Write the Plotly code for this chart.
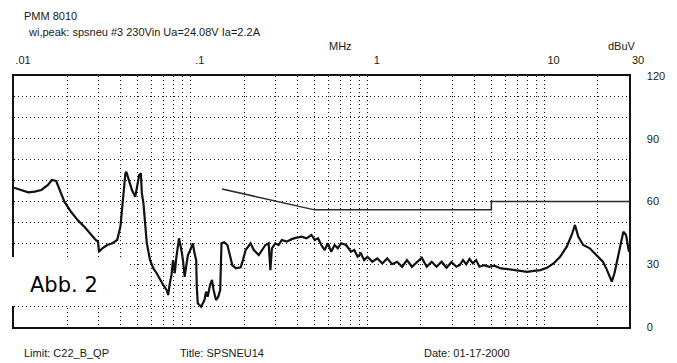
import math
import plotly.graph_objects as go

# ---------------- data ----------------
meas_freq_mhz = [
    0.0100, 0.01104, 0.01203, 0.0131, 0.01428, 0.01556, 0.01638, 0.01732, 0.01807, 0.01927,
    0.0210, 0.0229, 0.02493, 0.02718, 0.02897, 0.02985, 0.03023, 0.03158, 0.03368, 0.03592,
    0.03831, 0.03998, 0.04171, 0.04264, 0.04317, 0.04446, 0.04645, 0.04847, 0.04955, 0.05104,
    0.05217, 0.05284, 0.05394, 0.05513, 0.05635, 0.0588, 0.06135, 0.06408, 0.06686, 0.06977,
    0.07289, 0.0744, 0.07603, 0.07771, 0.07932, 0.08107, 0.08286, 0.0857, 0.08839, 0.09023,
    0.09222, 0.09426, 0.09621, 0.09922, 0.1026, 0.1049, 0.1072, 0.1080, 0.1094, 0.1143,
    0.1193, 0.1219, 0.1245, 0.1284, 0.1317, 0.1344, 0.1387, 0.1428, 0.1465, 0.1490,
    0.1543, 0.1609, 0.1666, 0.1716, 0.1800, 0.1912, 0.1970, 0.2040, 0.2175, 0.2269,
    0.2420, 0.2638, 0.2753, 0.2814, 0.2872, 0.3000, 0.3130, 0.3266, 0.3484, 0.3714,
    0.3962, 0.4224, 0.4504, 0.4804, 0.5019, 0.5236, 0.5464, 0.5707, 0.5955, 0.6214,
    0.6492, 0.6773, 0.7068, 0.7538, 0.8035, 0.8395, 0.8761, 0.9141, 0.9548, 0.9961,
    1.062, 1.133, 1.209, 1.288, 1.374, 1.466, 1.563, 1.667, 1.777, 1.895,
    2.021, 2.155, 2.299, 2.451, 2.615, 2.788, 2.974, 3.171, 3.308, 3.456,
    3.606, 3.762, 3.931, 4.101, 4.280, 4.563, 4.867, 5.190, 5.656, 6.166,
    6.711, 7.315, 7.975, 8.680, 9.463, 10.31, 11.23, 12.24, 13.34, 14.23,
    14.85, 15.49, 16.52, 18.00, 19.62, 21.36, 22.32, 23.28, 23.98, 24.83,
    25.92, 27.07, 27.88, 28.86, 30.0,
]
meas_level_dbuv = [
    66.6, 65.5, 64.4, 64.7, 65.5, 67.9, 70.3, 69.8, 65.5, 59.9,
    55.1, 51.1, 48.0, 44.0, 41.6, 40.8, 36.0, 37.6, 39.2, 40.0,
    41.6, 48.0, 63.9, 73.5, 74.2, 70.3, 65.5, 62.3, 67.1, 72.7,
    73.5, 63.9, 59.1, 48.0, 40.0, 32.0, 28.0, 25.7, 22.5, 20.1,
    17.7, 15.3, 20.9, 24.9, 32.0, 25.7, 33.6, 42.4, 36.8, 32.0,
    24.0, 30.0, 34.4, 36.8, 40.0, 35.2, 32.0, 19.3, 11.3, 9.7,
    12.9, 16.9, 14.5, 20.1, 22.5, 17.7, 12.9, 14.5, 17.7, 40.0,
    40.5, 39.2, 33.0, 29.5, 28.0, 28.5, 32.0, 36.8, 40.0, 36.8,
    34.4, 39.2, 40.0, 27.2, 37.6, 40.0, 39.2, 41.6, 40.8, 42.0,
    42.7, 43.2, 42.4, 44.0, 41.6, 42.4, 39.2, 36.8, 40.0, 36.0,
    39.2, 37.6, 40.0, 39.2, 36.0, 36.8, 33.6, 35.2, 32.0, 33.6,
    31.2, 32.8, 30.4, 32.8, 30.0, 31.2, 28.8, 32.0, 28.8, 31.0,
    33.1, 28.8, 31.2, 28.8, 31.2, 28.3, 31.0, 28.8, 29.6, 32.0,
    30.0, 32.5, 30.4, 32.0, 28.8, 29.6, 28.8, 29.3, 28.0, 27.7,
    27.2, 26.8, 26.4, 26.8, 27.2, 28.3, 30.4, 33.6, 38.4, 44.0,
    48.8, 43.2, 39.2, 37.6, 34.4, 31.2, 28.0, 24.0, 21.7, 25.7,
    32.8, 41.6, 45.6, 44.0, 36.0,
]

limit_freq_mhz = [0.15, 0.5, 5.0, 5.0, 30.0]
limit_level_dbuv = [66.0, 56.0, 56.0, 60.0, 60.0]

x_grid_freqs = ([m * 0.01 for m in range(1, 10)] + [m * 0.1 for m in range(1, 10)]
                + [m * 1.0 for m in range(1, 10)] + [10.0, 20.0, 30.0])
x_label_freqs = [0.01, 0.1, 1.0, 10.0, 30.0]
x_label_texts = [".01", ".1", "1", "10", "30"]

y_grid_vals = list(range(0, 121, 10))
y_label_vals = [0, 30, 60, 90, 120]

header_line1 = "PMM 8010"
header_line2 = "wi,peak: spsneu #3 230Vin Ua=24.08V Ia=2.2A"
footer_texts = ["Limit: C22_B_QP", "Title: SPSNEU14", "Date: 01-17-2000"]

# ---------------- figure ----------------
FONT = "Liberation Sans, Arial, sans-serif"
INK = "#1a1a1a"
GRID_DASH = "1.2px,2.8px"

fig = go.Figure()
fig.add_trace(go.Scatter(x=limit_freq_mhz, y=limit_level_dbuv, mode="lines",
                         line=dict(color="#2a2a2a", width=1.5), hoverinfo="skip"))
fig.add_trace(go.Scatter(x=meas_freq_mhz, y=meas_level_dbuv, mode="lines",
                         line=dict(color="#111111", width=2.2), hoverinfo="skip"))

x_ticktext = []
for f in x_grid_freqs:
    lbl = ""
    for lf, lt in zip(x_label_freqs, x_label_texts):
        if abs(f - lf) < 1e-9:
            lbl = lt
    x_ticktext.append(lbl)

fig.update_xaxes(
    type="log", range=[math.log10(0.01), math.log10(30)],
    side="top", tickmode="array", tickvals=x_grid_freqs, ticktext=x_ticktext,
    ticks="", ticklabelshift=9, ticklabelstandoff=6,
    tickfont=dict(family=FONT, size=11, color=INK),
    showgrid=True, gridcolor="#111111", gridwidth=1, griddash=GRID_DASH,
    showline=True, mirror=True, linecolor="#111111", linewidth=1.6,
    zeroline=False,
)
fig.update_yaxes(
    range=[0, 120], side="right", tickmode="array", tickvals=y_grid_vals,
    ticktext=[str(v) if v in y_label_vals else "" for v in y_grid_vals],
    ticks="", ticklabelstandoff=14,
    tickfont=dict(family=FONT, size=11, color=INK),
    showgrid=True, gridcolor="#111111", gridwidth=1, griddash=GRID_DASH,
    showline=True, mirror=True, linecolor="#111111", linewidth=1.6,
    zeroline=False,
)

W, H = 677, 363
L, R, T, B = 12, 42, 76, 36
pw, ph = W - L - R, H - T - B


def px(xp):
    return (xp - L) / pw


def py(yp):
    return (H - B - yp) / ph


annos = [
    dict(text=header_line1, x=px(20), y=py(16), size=11),
    dict(text=header_line2, x=px(24), y=py(32), size=11),
    dict(text="MHz", x=px(329), y=py(46), size=11),
    dict(text="dBuV", x=px(612), y=py(46), size=11),
    dict(text=footer_texts[0], x=px(20), y=py(353), size=11),
    dict(text=footer_texts[1], x=px(178), y=py(353), size=11),
    dict(text=footer_texts[2], x=px(425), y=py(353), size=11),
]
for a in annos:
    fig.add_annotation(text=a["text"], x=a["x"], y=a["y"], xref="paper", yref="paper",
                       xanchor="left", yanchor="middle", showarrow=False,
                       font=dict(family=FONT, size=a["size"], color=INK))

# white label box "Abb. 2"
fig.add_shape(type="rect", xref="paper", yref="paper",
              x0=px(0), x1=px(127), y0=py(306), y1=py(257),
              fillcolor="white", line=dict(width=0), layer="above")
fig.add_annotation(text="Abb. 2", x=px(26), y=py(285), xref="paper", yref="paper",
                   xanchor="left", yanchor="middle", showarrow=False,
                   font=dict(family="DejaVu Sans, Verdana, sans-serif", size=21, color="#000000"))

fig.update_layout(
    width=W, height=H, margin=dict(l=L, r=R, t=T, b=B),
    paper_bgcolor="white", plot_bgcolor="white", showlegend=False,
    hovermode=False,
)

fig.write_html("out.html", config={"displayModeBar": False, "staticPlot": True},
               post_script="document.body.style.margin='0';document.body.style.padding='0';")
